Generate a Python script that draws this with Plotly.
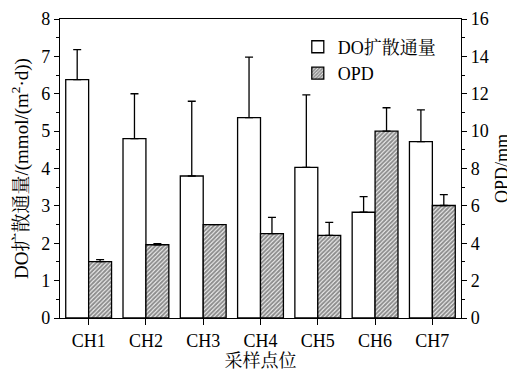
import plotly.graph_objects as go

categories = ["CH1", "CH2", "CH3", "CH4", "CH5", "CH6", "CH7"]
do_flux = [6.38, 4.80, 3.80, 5.36, 4.03, 2.83, 4.72]
do_flux_err = [0.80, 1.20, 2.00, 1.62, 1.94, 0.42, 0.85]
opd = [3.02, 3.92, 5.00, 4.52, 4.42, 10.00, 6.02]
opd_err = [0.10, 0.06, 0.0, 0.86, 0.70, 1.25, 0.58]

FONT = "Liberation Serif, 'Times New Roman', 'Noto Serif CJK SC', 'Noto Sans CJK SC', serif"

fig = go.Figure()
fig.add_trace(go.Bar(
    x=categories, y=do_flux, name="DO扩散通量",
    offsetgroup="1", alignmentgroup="a",
    marker=dict(color="white", line=dict(color="black", width=1.3)),
    error_y=dict(type="data", array=do_flux_err, arrayminus=[0]*7, symmetric=False,
                 color="black", thickness=1.3, width=4),
    yaxis="y",
))
fig.add_trace(go.Bar(
    x=categories, y=opd, name="OPD",
    offsetgroup="2", alignmentgroup="a",
    marker=dict(color="white", line=dict(color="black", width=1.3),
                pattern=dict(shape="/", fgcolor="#1e1e1e", bgcolor="white",
                             size=3, solidity=0.7)),
    error_y=dict(type="data", array=opd_err, arrayminus=[0]*7, symmetric=False,
                 color="black", thickness=1.3, width=4),
    yaxis="y2",
))

fig.update_layout(
    width=515, height=370,
    margin=dict(l=52, r=62, t=11, b=60, autoexpand=False),
    paper_bgcolor="white", plot_bgcolor="white",
    font=dict(family=FONT, size=18, color="black"),
    barmode="group", bargap=0.2, bargroupgap=0,
    showlegend=True,
    legend=dict(x=0.593, y=0.968, xanchor="left", yanchor="top",
                bgcolor="rgba(0,0,0,0)", font=dict(size=18), tracegroupgap=0),
    xaxis=dict(
        range=[-0.5, 6.5], showline=True, linecolor="black", linewidth=1.3,
        mirror=True, ticks="outside", ticklen=6, tickwidth=1.3, tickcolor="black",
        title=dict(text="采样点位", font=dict(size=18), standoff=0),
        tickfont=dict(size=18), automargin=False,
    ),
    yaxis=dict(
        range=[0, 8], dtick=1, showline=True, linecolor="black", linewidth=1.3,
        ticks="outside", ticklen=5, tickwidth=1.3, tickcolor="black",
        minor=dict(dtick=0.5, ticks="outside", ticklen=3, tickwidth=1.2, tickcolor="black"),
        showgrid=False, zeroline=False,
        title=dict(text="DO扩散通量/(mmol/(m<sup>2</sup>·d))", font=dict(size=19), standoff=8),
        tickfont=dict(size=18), automargin=False,
    ),
    yaxis2=dict(
        range=[0, 16], dtick=2, overlaying="y", side="right",
        showline=True, linecolor="black", linewidth=1.3,
        ticks="outside", ticklen=5, tickwidth=1.3, tickcolor="black",
        minor=dict(dtick=1, ticks="outside", ticklen=3, tickwidth=1.2, tickcolor="black"),
        showgrid=False, zeroline=False,
        title=dict(text="OPD/mm", font=dict(size=18), standoff=7),
        tickfont=dict(size=18), automargin=False,
    ),
)

fig.write_html("out.html")
